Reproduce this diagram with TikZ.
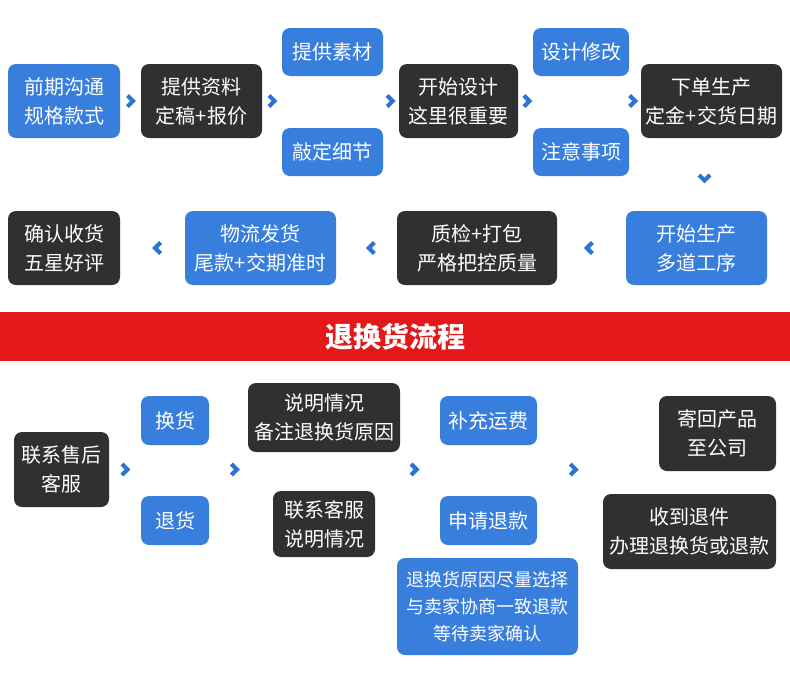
\documentclass[tikz,border=0pt]{standalone}
\usepackage{fontspec}
\setmainfont{Noto Sans CJK SC}
\usetikzlibrary{calc}

\definecolor{boxblue}{RGB}{56,126,221}
\definecolor{boxdark}{RGB}{48,48,48}
\definecolor{chevblue}{RGB}{44,115,214}
\definecolor{bandred}{RGB}{228,24,26}

\begin{document}
\begin{tikzpicture}[x=1pt,y=-1pt,
    box/.style={rounded corners=8pt,inner sep=0pt,align=center,text=white,
        font={\fontsize{20}{29}\selectfont}},
    bluebox/.style={box,fill=boxblue},
    darkbox/.style={box,fill=boxdark},
    rchev/.pic={\draw[chevblue,line width=4.2pt,line join=miter](-3,-5.5)--(2.5,0)--(-3,5.5);},
    lchev/.pic={\draw[chevblue,line width=4.2pt,line join=miter](3,-5.5)--(-2.5,0)--(3,5.5);},
    dchev/.pic={\draw[chevblue,line width=4.2pt,line join=miter](-5.5,-3)--(0,2.5)--(5.5,-3);}]
\useasboundingbox (0,0) rectangle (790,689);

% ordering flow, top row
\node[bluebox,minimum width=112pt,minimum height=74pt](qq) at (64,101) {前期沟通\\规格款式};
\node[darkbox,minimum width=121pt,minimum height=74pt](tg) at (201.5,101) {提供资料\\定稿+报价};
\node[bluebox,minimum width=101pt,minimum height=48pt](sc) at (332.5,52) {提供素材};
\node[bluebox,minimum width=101pt,minimum height=48pt](qd) at (332.5,152) {敲定细节};
\node[darkbox,minimum width=119pt,minimum height=74pt](ks) at (458.5,101) {开始设计\\这里很重要};
\node[bluebox,minimum width=96pt,minimum height=48pt](xg) at (581,52) {设计修改};
\node[bluebox,minimum width=96pt,minimum height=48pt](zy) at (581,152) {注意事项};
\node[darkbox,minimum width=141pt,minimum height=74pt](xd) at (711.5,101) {下单生产\\定金+交货日期};

\pic at ($(qq.east)!0.5!(tg.west)$) {rchev};
\pic at ($(tg.east|-qq)!0.5!(sc.west|-qq)$) {rchev};
\pic at ($(sc.east|-qq)!0.45!(ks.west)$) {rchev};
\pic at ($(ks.east)!0.6!(xg.west|-ks)$) {rchev};
\pic at ($(xg.east|-ks)!0.3!(xd.west)$) {rchev};
\pic at (704.5,178) {dchev};

% second row, right to left
\node[darkbox,minimum width=112pt,minimum height=74pt](qr) at (64,248) {确认收货\\五星好评};
\node[bluebox,minimum width=151pt,minimum height=74pt](wl) at (260.5,248) {物流发货\\尾款+交期准时};
\node[darkbox,minimum width=160pt,minimum height=74pt](zj) at (477,248) {质检+打包\\严格把控质量};
\node[bluebox,minimum width=141pt,minimum height=74pt](sp) at (696.5,248) {开始生产\\多道工序};

\pic at ($(qr.east)!0.58!(wl.west)$) {lchev};
\pic at ($(wl.east)!0.58!(zj.west)$) {lchev};
\pic at ($(zj.east)!0.47!(sp.west)$) {lchev};

% band
\fill[bandred](0,312) rectangle (790,361);
\node[text=white,font={\fontsize{28}{32}\selectfont\bfseries}](band) at (395,336.5) {退换货流程};

% return flow
\node[darkbox,minimum width=95pt,minimum height=75pt](lx) at (61.5,469.5) {联系售后\\客服};
\node[bluebox,minimum width=68pt,minimum height=49pt](hh) at (175,420.5) {换货};
\node[bluebox,minimum width=68pt,minimum height=49pt](th) at (175,520.5) {退货};
\node[darkbox,minimum width=152pt,minimum height=69pt](sm) at (324,417.5) {说明情况\\备注退换货原因};
\node[darkbox,minimum width=102pt,minimum height=66pt](lk) at (324,524) {联系客服\\说明情况};
\node[bluebox,minimum width=97pt,minimum height=49pt](bc) at (488.5,420.5) {补充运费};
\node[bluebox,minimum width=97pt,minimum height=49pt](sq) at (488.5,520.5) {申请退款};
\node[bluebox,minimum width=181pt,minimum height=97pt,
    font={\fontsize{18}{27}\selectfont}](yy) at (487.5,606.5) {退换货原因尽量选择\\与卖家协商一致退款\\等待卖家确认};
\node[darkbox,minimum width=117pt,minimum height=75pt](jh) at (717.5,433.5) {寄回产品\\至公司};
\node[darkbox,minimum width=173pt,minimum height=75pt](sd) at (689.5,531.5) {收到退件\\办理退换货或退款};

\pic at ($(lx.east)!0.5!(hh.west|-lx)$) {rchev};
\pic at ($(hh.east|-lx)!0.65!(sm.west|-lx)$) {rchev};
\pic at ($(sm.east|-lx)!0.35!(bc.west|-lx)$) {rchev};
\pic at ($(bc.east|-lx)!0.55!(sd.west|-lx)$) {rchev};

\end{tikzpicture}
\end{document}
